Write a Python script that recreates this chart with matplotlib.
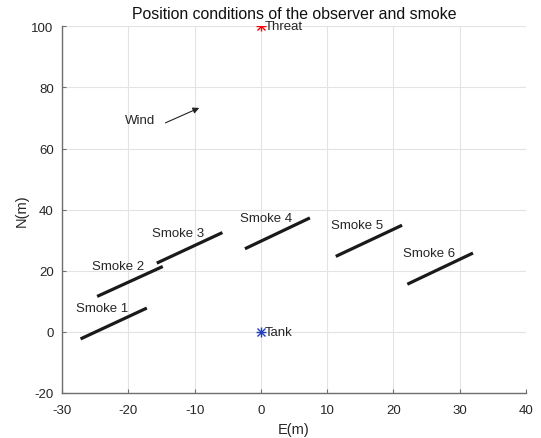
import matplotlib
matplotlib.use("Agg")
import matplotlib.pyplot as plt
import numpy as np

plt.rcParams['font.family'] = ['Liberation Sans', 'DejaVu Sans']
plt.rcParams['axes.unicode_minus'] = False

# smoke segments (E, N) start / end
smoke_names = ['Smoke 1', 'Smoke 2', 'Smoke 3', 'Smoke 4', 'Smoke 5', 'Smoke 6']
smoke_x0 = [-27.2, -24.7, -15.7, -2.4, 11.3, 22.1]
smoke_y0 = [-2.3, 11.6, 22.5, 27.2, 24.7, 15.6]
smoke_x1 = [-17.2, -14.8, -5.8, 7.4, 21.3, 32.0]
smoke_y1 = [7.8, 21.4, 32.5, 37.3, 34.9, 25.8]

threat = (0, 100)
tank = (0, 0)
wind_from = (-14.4, 68.4)
wind_to = (-9.3, 73.3)


def asterisk(ax, x, y, color):
    # matlab style '*' marker = plus + cross
    ax.plot(x, y, marker='+', color=color, ms=7, mew=1.0, ls='none')
    ax.plot(x, y, marker='x', color=color, ms=5.5, mew=1.0, ls='none')


def main():
    fig = plt.figure(figsize=(5.41, 4.39), dpi=100)
    ax = fig.add_axes([62 / 541, 1 - 394 / 439, 464 / 541, 366.7 / 439])
    dark = '#262626'
    fs = 9.5

    for name, x0, y0, x1, y1 in zip(smoke_names, smoke_x0, smoke_y0, smoke_x1, smoke_y1):
        ax.plot([x0, x1], [y0, y1], color='#1a1a1a', lw=2.3, solid_capstyle='butt')
        ax.text(x0 - 0.7, y1, name, ha='left', va='center', fontsize=fs, color=dark)

    asterisk(ax, *threat, 'red')
    ax.text(threat[0] + 0.6, threat[1], 'Threat', ha='left', va='center', fontsize=fs, color=dark)
    asterisk(ax, *tank, '#1f3fbf')
    ax.text(tank[0] + 0.6, tank[1], 'Tank', ha='left', va='center', fontsize=fs, color=dark)

    ax.annotate('', xy=wind_to, xytext=wind_from,
                arrowprops=dict(arrowstyle='-|>', color='#222222', lw=0.8,
                                mutation_scale=9, shrinkA=0, shrinkB=0))
    ax.text(-20.5, 69.5, 'Wind', ha='left', va='center', fontsize=fs, color=dark)

    ax.set_xlim(-30, 40)
    ax.set_ylim(-20, 100)
    ax.set_xticks(np.arange(-30, 41, 10))
    ax.set_yticks(np.arange(-20, 101, 20))
    ax.grid(True, color='#e3e3e3', lw=0.8)
    ax.set_axisbelow(True)
    for s in ['top', 'right']:
        ax.spines[s].set_visible(False)
    for s in ['left', 'bottom']:
        ax.spines[s].set_color('#6e6e6e')
        ax.spines[s].set_linewidth(1.0)
    ax.tick_params(direction='in', length=3, color='#6e6e6e', labelcolor=dark, labelsize=fs)
    ax.tick_params(axis='x', pad=8)
    ax.tick_params(axis='y', pad=6)

    fig.text(0.5 * (62 + 526) / 541, 1 - 14.5 / 439, 'Position conditions of the observer and smoke',
             ha='center', va='center', fontsize=11.4, color='#111111')
    ax.set_xlabel('E(m)', fontsize=10.5, color=dark, labelpad=4)
    ax.set_ylabel('N(m)', fontsize=10.5, color=dark, labelpad=2)

    fig.savefig('out.png', dpi=100)


main()
